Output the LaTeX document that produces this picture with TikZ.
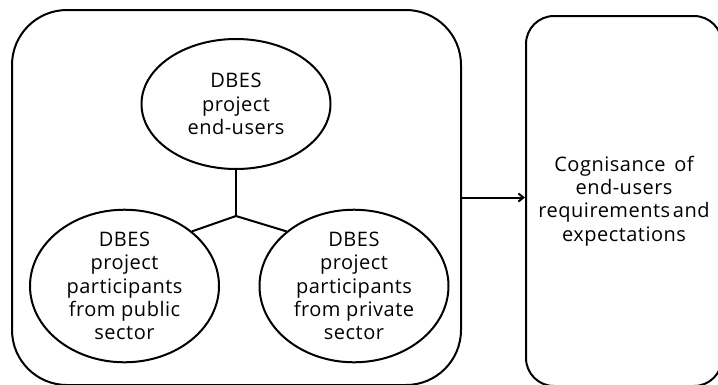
\documentclass[tikz,border=0pt]{standalone}
\usepackage{fontspec}
\setmainfont[LetterSpace=2.5]{Open Sans}
\usetikzlibrary{shapes.geometric,arrows.meta,calc}
\begin{document}
\begin{tikzpicture}[x=1pt,y=-1pt,
  lw/.style={line width=2pt},
  txt/.style={font=\fontsize{20}{23.3}\selectfont},
  bigbox/.style={draw,lw,rounded corners=#1,inner sep=0pt},
  oval/.style={draw,lw,ellipse,minimum width=189pt,minimum height=130pt,inner sep=0pt,align=center,txt},
  conn/.style={lw},
]
\clip (0,0) rectangle (718,384);
\fill[white] (0,0) rectangle (718,384);
\node[bigbox=55pt,minimum width=449pt,minimum height=375pt] (outer) at (236.5,197.5) {};
\node[bigbox=28pt,minimum width=196pt,minimum height=370pt,align=center,txt] (cog) at (624,201)
  {Cognisance\hspace{3pt} of\\end-users\\requirements\hspace{-3pt} and\\expectations};
\node[oval] (end) at (236,104) {DBES\\project\\end-users};
\node[oval] (pub) at (124.5,286) {DBES\\project\\participants\\from public\\sector};
\node[oval] (priv) at (354,286) {DBES\\project\\participants\\from private\\sector};
\coordinate (j) at (236,216);
\draw[conn] (end.south) -- (j);
\draw[conn] (j) -- (pub.north east);
\draw[conn] (j) -- (priv.north west);
\draw[conn,-{Straight Barb[length=5pt,width=8pt]}] (outer.east) -- (outer.east -| cog.west);
\end{tikzpicture}
\end{document}
